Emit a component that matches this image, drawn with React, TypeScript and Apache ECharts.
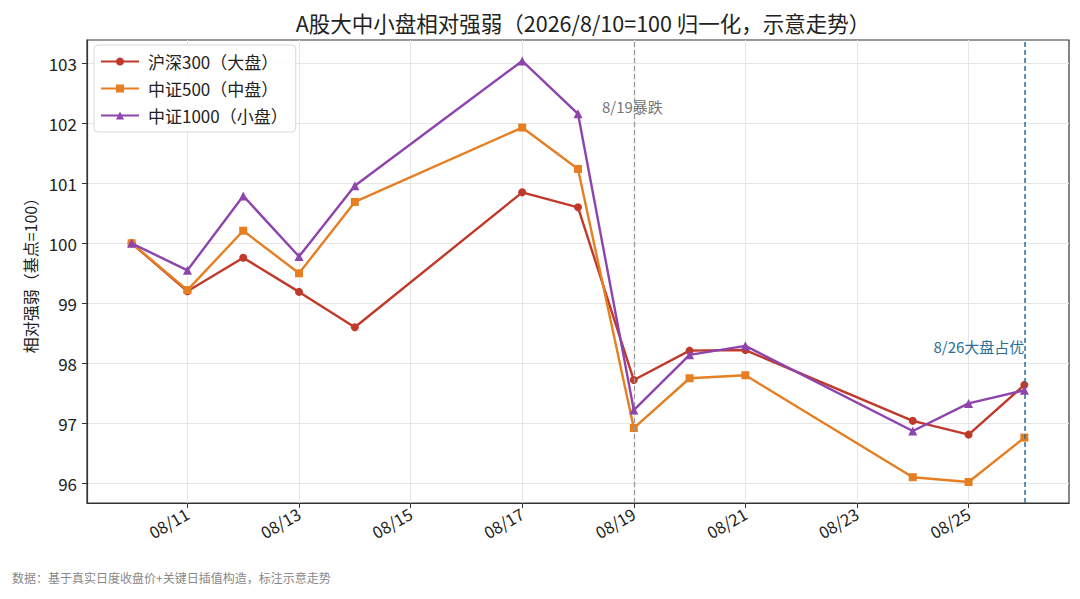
import React, { useEffect, useRef } from "react";
import * as echarts from "echarts";

const dates = ["08/10", "08/11", "08/12", "08/13", "08/14", "08/17", "08/18", "08/19", "08/20", "08/21", "08/24", "08/25", "08/26"];
const hs300 = [100, 99.2, 99.76, 99.19, 98.6, 100.85, 100.6, 97.72, 98.21, 98.22, 97.04, 96.81, 97.64];
const csi500 = [100, 99.22, 100.21, 99.5, 100.69, 101.93, 101.24, 96.92, 97.75, 97.8, 96.1, 96.02, 96.76];
const csi1000 = [100, 99.55, 100.79, 99.78, 100.96, 103.04, 102.16, 97.22, 98.14, 98.29, 96.87, 97.33, 97.55];
const xTicks = ["08/11", "08/13", "08/15", "08/17", "08/19", "08/21", "08/23", "08/25"];
const yTicks = [96, 97, 98, 99, 100, 101, 102, 103];
const seriesNames = ["沪深300（大盘）", "中证500（中盘）", "中证1000（小盘）"];
const crashDay = "08/19";
const leadDay = "08/26";

const dayOf = (s: string) => parseInt(s.split("/")[1], 10);
const FONT = "'Noto Sans CJK SC', 'Noto Sans', sans-serif";

export default function App() {
  const ref = useRef<HTMLDivElement>(null);
  useEffect(() => {
    if (!ref.current) return;
    const chart = echarts.init(ref.current, null, { renderer: "svg" });
    const xs = dates.map(dayOf);
    const mk = (vals: number[]) => vals.map((v, i) => [xs[i], v]);
    const colors = ["#c0392b", "#e67e22", "#8e44ad"];
    const symbols = ["circle", "rect", "triangle"];
    const sizes = [8, 8, 9];
    const all = [hs300, csi500, csi1000];
    chart.setOption({
      animation: false,
      textStyle: { fontFamily: FONT },
      title: {
        text: "A股大中小盘相对强弱（2026/8/10=100 归一化，示意走势）",
        left: 578,
        textAlign: "center",
        top: 7,
        textStyle: { fontSize: 21.5, fontWeight: "normal", color: "#222", fontFamily: FONT },
      },
      graphic: [
        {
          type: "text",
          left: 12,
          top: 571,
          style: { text: "数据：基于真实日度收盘价+关键日插值构造，标注示意走势", fill: "#888", fontSize: 12, fontFamily: FONT },
        },
      ],
      legend: {
        orient: "vertical",
        left: 94,
        top: 45,
        padding: [8, 8, 8, 6],
        itemGap: 10,
        itemWidth: 38,
        itemHeight: 10,
        backgroundColor: "rgba(255,255,255,0.85)",
        borderColor: "#d8d8d8",
        borderWidth: 1,
        borderRadius: 4,
        textStyle: { fontSize: 17, color: "#222", fontFamily: FONT, padding: [0, 0, 0, 4] },
        data: seriesNames,
      },
      grid: {
        left: 87,
        right: 11,
        top: 40,
        bottom: 96,
        show: true,
        borderColor: "#333",
        borderWidth: 1.2,
        containLabel: false,
      },
      xAxis: {
        type: "value",
        min: 9.2,
        max: 26.8,
        axisLine: { show: true, lineStyle: { color: "#333", width: 1.2 } },
        axisTick: { show: true, inside: false, length: 5, lineStyle: { color: "#333" }, customValues: xTicks.map(dayOf) },
        axisLabel: {
          customValues: xTicks.map(dayOf),
          formatter: (v: number) => "08/" + String(Math.round(v)).padStart(2, "0"),
          rotate: 30,
          fontSize: 16.5,
          color: "#222",
          margin: 9,
          fontFamily: FONT,
        },
        splitLine: { show: true, lineStyle: { color: "#e6e6e6", width: 1 } },
      },
      yAxis: {
        type: "value",
        min: 95.67,
        max: 103.39,
        name: "相对强弱（基点=100）",
        nameLocation: "middle",
        nameGap: 47,
        nameTextStyle: { fontSize: 16, color: "#222", fontFamily: FONT },
        axisLine: { show: true, lineStyle: { color: "#333", width: 1.2 } },
        axisTick: { show: true, length: 5, lineStyle: { color: "#333" }, customValues: yTicks },
        axisLabel: { customValues: yTicks, fontSize: 17, color: "#222", margin: 10, fontFamily: FONT },
        splitLine: { show: true, lineStyle: { color: "#e6e6e6", width: 1 } },
      },
      series: all.map((vals, i) => ({
        name: seriesNames[i],
        type: "line",
        data: mk(vals),
        symbol: symbols[i],
        symbolSize: sizes[i],
        showSymbol: true,
        lineStyle: { color: colors[i], width: 2.4 },
        itemStyle: { color: colors[i] },
        z: 3 + i,
        ...(i === 0
          ? {
              markLine: {
                silent: true,
                symbol: "none",
                label: { show: false },
                data: [
                  { xAxis: dayOf(crashDay), lineStyle: { color: "#999", type: [5, 3], width: 1.3 } },
                  { xAxis: dayOf(leadDay), lineStyle: { color: "#2a6f9b", type: [5, 3], width: 1.5 } },
                ],
              },
              markPoint: {
                silent: true,
                symbol: "circle",
                symbolSize: 0,
                data: [
                  {
                    coord: [dayOf(crashDay) - 0.57, 102.28],
                    label: { show: true, formatter: "8/19暴跌", position: "right", distance: 0, color: "#777", fontSize: 15, fontFamily: FONT },
                  },
                  {
                    coord: [dayOf(leadDay), 98.28],
                    label: { show: true, formatter: "8/26大盘占优", position: "left", distance: 0, color: "#2a6f9b", fontSize: 15, fontFamily: FONT },
                  },
                ],
              },
            }
          : {}),
      })),
    });
    return () => chart.dispose();
  }, []);
  return <div ref={ref} style={{ position: "fixed", left: 0, top: 0, width: 1080, height: 599, background: "#fff" }} />;
}
